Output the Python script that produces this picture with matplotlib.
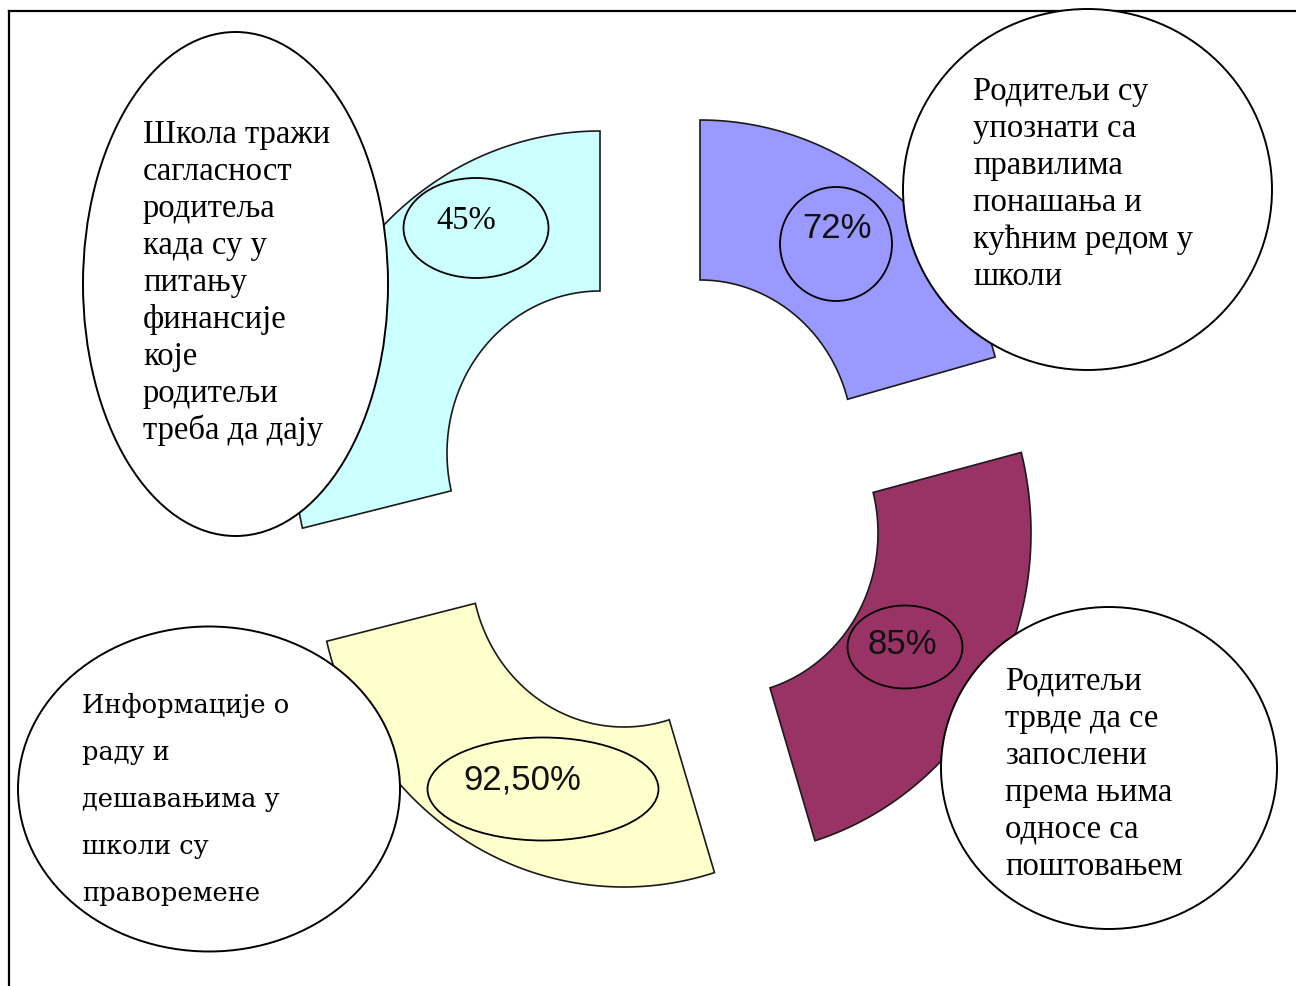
import matplotlib

matplotlib.use("Agg")
import matplotlib.pyplot as plt
import numpy as np
from matplotlib.patches import Ellipse, Polygon

# --- data -------------------------------------------------------------
values = [45, 72, 85, 92.5]
value_labels = ["45%", "72%", "85%", "92,50%"]
colors = ["#CCFFFF", "#9999FF", "#993366", "#FFFFCC"]

statements = [
    ["Школа тражи", "сагласност", "родитеља", "када су у", "питању",
     "финансије", "које", "родитељи", "треба да дају"],
    ["Родитељи су", "упознати са", "правилима", "понашања и",
     "кућним редом у", "школи"],
    ["Родитељи", "трвде да се", "запослени", "према њима",
     "односе са", "поштовањем"],
    ["Информације о", "раду и", "дешавањима у", "школи су", "праворемене"],
]

# --- layout (pixel canvas, y grows downwards) ---------------------------
W, H = 1296, 987
seg_centers = [(600, 454), (700, 443), (725, 534), (624, 566)]
seg_angles = [(90, 193.5), (15.3, 90), (-72.9, 14.5), (193.7, 287.2)]
r_out = (306, 322)   # rx, ry
r_in = (153, 162)

label_ellipses = [(476, 229, 145, 100), (836, 245, 112, 114),
                  (905, 648, 115, 83), (543, 790, 231, 103)]
label_pos = [(466, 221), (837, 229), (902, 644), (522, 780)]

bubbles = [(235.5, 285, 305, 504), (1087.5, 190.5, 369, 361),
           (1109, 769, 336, 322), (209, 790, 382, 325)]
text_start = [(143, 143, 37), (973, 100, 37), (1005, 690, 37), (82, 713, 47)]


def ring_segment(center, t1, t2):
    cx, cy = center
    th = np.radians(np.linspace(t1, t2, 120))
    outer = np.column_stack([cx + r_out[0] * np.cos(th), cy - r_out[1] * np.sin(th)])
    inner = np.column_stack([cx + r_in[0] * np.cos(th[::-1]), cy - r_in[1] * np.sin(th[::-1])])
    return np.vstack([outer, inner])


fig = plt.figure(figsize=(W / 100, H / 100), dpi=100)
ax = fig.add_axes([0, 0, 1, 1])
ax.set_xlim(0, W)
ax.set_ylim(H, 0)
ax.axis("off")

# frame
ax.plot([9, 9], [12, H], color="black", lw=1.6)
ax.plot([9, W], [12, 12], color="black", lw=1.6)

for i, val in enumerate(values):
    t1, t2 = seg_angles[i]
    ax.add_patch(Polygon(ring_segment(seg_centers[i], t1, t2), closed=True,
                         facecolor=colors[i], edgecolor="#1a1a1a", lw=1.2, zorder=2))
    ex, ey, ew, eh = label_ellipses[i]
    ax.add_patch(Ellipse((ex, ey), ew, eh, fill=False, edgecolor="black", lw=1.3, zorder=3))
    lx, ly = label_pos[i]
    if i == 0:
        ax.text(lx, ly, value_labels[i], ha="center", va="center", fontsize=23.5,
                family="Liberation Serif", zorder=4)
    else:
        ax.text(lx, ly, value_labels[i], ha="center", va="center", fontsize=25,
                family=["Liberation Sans Narrow", "Liberation Sans"], color="#111111", zorder=4)

for i, lines in enumerate(statements):
    bx, by, bw, bh = bubbles[i]
    ax.add_patch(Ellipse((bx, by), bw, bh, facecolor="white", edgecolor="black", lw=1.4, zorder=5))
    x0, y0, step = text_start[i]
    fam = "DejaVu Serif" if i == 3 else "Liberation Serif"
    size = 18.5 if i == 3 else 23.5
    for k, line in enumerate(lines):
        ax.text(x0, y0 + k * step, line, ha="left", va="baseline", fontsize=size,
                family=fam, zorder=6)

fig.savefig("out.png", dpi=100)
plt.close(fig)
